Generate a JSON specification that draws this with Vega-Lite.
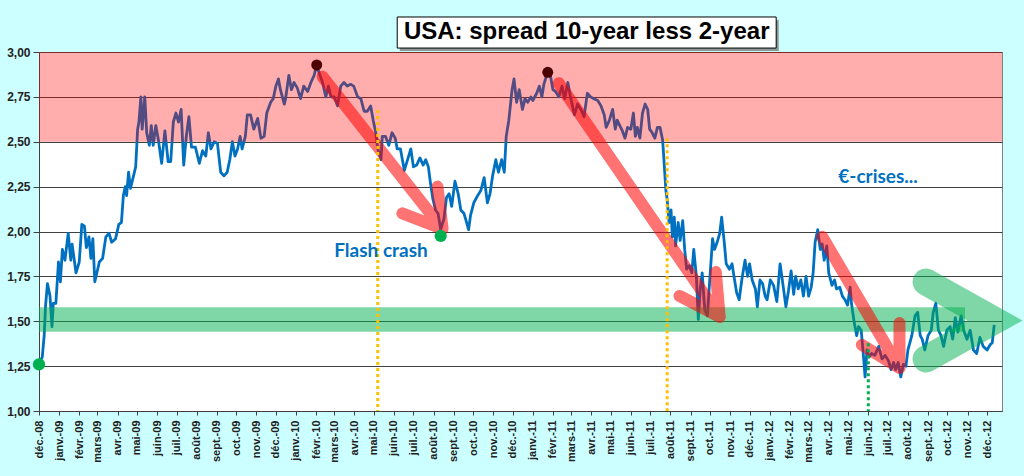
{
  "$schema": "https://vega.github.io/schema/vega-lite/v6.json",
  "width": 963,
  "height": 359,
  "autosize": {"type": "none"},
  "padding": {"left": 39, "top": 52, "right": 22, "bottom": 65},
  "background": "#CCFFFF",
  "config": {
    "view": {"fill": "white", "stroke": "#808080", "strokeWidth": 1},
    "locale": {
      "number": {"decimal": ",", "thousands": " ", "grouping": [3], "currency": ["", " €"]},
      "time": {
        "dateTime": "%A %e %B %Y à %X",
        "date": "%d/%m/%Y",
        "time": "%H:%M:%S",
        "periods": ["AM", "PM"],
        "days": ["dimanche", "lundi", "mardi", "mercredi", "jeudi", "vendredi", "samedi"],
        "shortDays": ["dim.", "lun.", "mar.", "mer.", "jeu.", "ven.", "sam."],
        "months": ["janvier", "février", "mars", "avril", "mai", "juin", "juillet", "août", "septembre", "octobre", "novembre", "décembre"],
        "shortMonths": ["janv.", "févr.", "mars", "avr.", "mai", "juin", "juil.", "août", "sept.", "oct.", "nov.", "déc."]
      }
    }
  },
  "encoding": {
    "x": {
      "field": "date",
      "type": "temporal",
      "scale": {
        "type": "utc",
        "domain": [{"year": 2008, "month": 12, "date": 1, "utc": true}, {"year": 2012, "month": 12, "date": 24, "utc": true}],
        "nice": false
      },
      "axis": {
        "title": null,
        "format": "%b-%y",
        "tickCount": {"interval": "month", "step": 1},
        "labelAngle": -90,
        "labelFont": "Liberation Sans",
        "labelFontWeight": "bold",
        "labelFontSize": 11,
        "labelColor": "#222222",
        "labelPadding": 5,
        "labelOverlap": false,
        "labelFlush": false,
        "labelBound": false,
        "tickSize": 4,
        "tickColor": "#404040",
        "domainColor": "#404040",
        "grid": false
      }
    },
    "y": {
      "field": "value",
      "type": "quantitative",
      "scale": {"domain": [1, 3], "nice": false, "zero": false},
      "axis": {
        "title": null,
        "values": [1, 1.25, 1.5, 1.75, 2, 2.25, 2.5, 2.75, 3],
        "format": ".2f",
        "labelFont": "Liberation Sans",
        "labelFontWeight": "bold",
        "labelFontSize": 12,
        "labelColor": "#222222",
        "labelPadding": 3,
        "tickSize": 6,
        "tickColor": "#404040",
        "domainColor": "#404040",
        "grid": true,
        "gridColor": "#404040",
        "gridWidth": 1
      }
    }
  },
  "layer": [
    {
      "data": {"values": [
        {"date": "2008-12-01", "value": 1.26}, {"date": "2008-12-06", "value": 1.30}, {"date": "2008-12-09", "value": 1.42}, {"date": "2008-12-11", "value": 1.58},
        {"date": "2008-12-14", "value": 1.71}, {"date": "2008-12-18", "value": 1.64}, {"date": "2008-12-21", "value": 1.47}, {"date": "2008-12-23", "value": 1.60},
        {"date": "2008-12-27", "value": 1.60}, {"date": "2008-12-31", "value": 1.83}, {"date": "2009-01-03", "value": 1.72}, {"date": "2009-01-06", "value": 1.90},
        {"date": "2009-01-10", "value": 1.84}, {"date": "2009-01-15", "value": 1.99}, {"date": "2009-01-19", "value": 1.84}, {"date": "2009-01-21", "value": 1.93},
        {"date": "2009-01-27", "value": 1.77}, {"date": "2009-02-01", "value": 1.83}, {"date": "2009-02-05", "value": 2.04}, {"date": "2009-02-09", "value": 2.03},
        {"date": "2009-02-12", "value": 1.91}, {"date": "2009-02-16", "value": 1.97}, {"date": "2009-02-19", "value": 1.85}, {"date": "2009-02-22", "value": 1.96},
        {"date": "2009-02-25", "value": 1.72}, {"date": "2009-03-04", "value": 1.83}, {"date": "2009-03-09", "value": 1.85}, {"date": "2009-03-14", "value": 1.97},
        {"date": "2009-03-19", "value": 1.99}, {"date": "2009-03-23", "value": 1.94}, {"date": "2009-03-29", "value": 1.96}, {"date": "2009-04-03", "value": 2.04},
        {"date": "2009-04-07", "value": 2.05}, {"date": "2009-04-10", "value": 2.20}, {"date": "2009-04-13", "value": 2.25}, {"date": "2009-04-15", "value": 2.20},
        {"date": "2009-04-18", "value": 2.33}, {"date": "2009-04-21", "value": 2.24}, {"date": "2009-04-25", "value": 2.30}, {"date": "2009-04-29", "value": 2.36},
        {"date": "2009-05-02", "value": 2.57}, {"date": "2009-05-04", "value": 2.61}, {"date": "2009-05-07", "value": 2.75}, {"date": "2009-05-09", "value": 2.57},
        {"date": "2009-05-13", "value": 2.75}, {"date": "2009-05-16", "value": 2.55}, {"date": "2009-05-20", "value": 2.48}, {"date": "2009-05-23", "value": 2.59},
        {"date": "2009-05-26", "value": 2.48}, {"date": "2009-05-30", "value": 2.59}, {"date": "2009-06-03", "value": 2.51}, {"date": "2009-06-08", "value": 2.38},
        {"date": "2009-06-13", "value": 2.56}, {"date": "2009-06-18", "value": 2.39}, {"date": "2009-06-22", "value": 2.39}, {"date": "2009-06-26", "value": 2.61},
        {"date": "2009-06-30", "value": 2.66}, {"date": "2009-07-04", "value": 2.61}, {"date": "2009-07-08", "value": 2.68}, {"date": "2009-07-12", "value": 2.37},
        {"date": "2009-07-16", "value": 2.53}, {"date": "2009-07-20", "value": 2.64}, {"date": "2009-07-24", "value": 2.47}, {"date": "2009-07-30", "value": 2.47},
        {"date": "2009-08-05", "value": 2.38}, {"date": "2009-08-10", "value": 2.45}, {"date": "2009-08-15", "value": 2.42}, {"date": "2009-08-19", "value": 2.55},
        {"date": "2009-08-23", "value": 2.46}, {"date": "2009-08-28", "value": 2.50}, {"date": "2009-09-02", "value": 2.49}, {"date": "2009-09-07", "value": 2.33},
        {"date": "2009-09-12", "value": 2.31}, {"date": "2009-09-17", "value": 2.33}, {"date": "2009-09-21", "value": 2.40}, {"date": "2009-09-25", "value": 2.50},
        {"date": "2009-09-29", "value": 2.42}, {"date": "2009-10-03", "value": 2.46}, {"date": "2009-10-07", "value": 2.53}, {"date": "2009-10-10", "value": 2.46},
        {"date": "2009-10-15", "value": 2.53}, {"date": "2009-10-18", "value": 2.65}, {"date": "2009-10-23", "value": 2.65}, {"date": "2009-10-28", "value": 2.57},
        {"date": "2009-11-03", "value": 2.63}, {"date": "2009-11-08", "value": 2.52}, {"date": "2009-11-13", "value": 2.53}, {"date": "2009-11-17", "value": 2.66},
        {"date": "2009-11-23", "value": 2.72}, {"date": "2009-11-27", "value": 2.74}, {"date": "2009-12-01", "value": 2.81}, {"date": "2009-12-05", "value": 2.85},
        {"date": "2009-12-08", "value": 2.79}, {"date": "2009-12-14", "value": 2.71}, {"date": "2009-12-16", "value": 2.74}, {"date": "2009-12-21", "value": 2.87},
        {"date": "2009-12-25", "value": 2.79}, {"date": "2009-12-29", "value": 2.83}, {"date": "2010-01-03", "value": 2.80}, {"date": "2010-01-08", "value": 2.74},
        {"date": "2010-01-13", "value": 2.81}, {"date": "2010-01-19", "value": 2.78}, {"date": "2010-01-24", "value": 2.83}, {"date": "2010-01-29", "value": 2.87},
        {"date": "2010-02-02", "value": 2.93}, {"date": "2010-02-06", "value": 2.88}, {"date": "2010-02-11", "value": 2.83}, {"date": "2010-02-16", "value": 2.75},
        {"date": "2010-02-20", "value": 2.81}, {"date": "2010-02-24", "value": 2.75}, {"date": "2010-03-01", "value": 2.75}, {"date": "2010-03-06", "value": 2.70},
        {"date": "2010-03-11", "value": 2.81}, {"date": "2010-03-16", "value": 2.83}, {"date": "2010-03-21", "value": 2.81}, {"date": "2010-03-26", "value": 2.82},
        {"date": "2010-03-31", "value": 2.81}, {"date": "2010-04-06", "value": 2.75}, {"date": "2010-04-11", "value": 2.74}, {"date": "2010-04-16", "value": 2.67},
        {"date": "2010-04-21", "value": 2.67}, {"date": "2010-04-26", "value": 2.70}, {"date": "2010-04-30", "value": 2.62}, {"date": "2010-05-04", "value": 2.55},
        {"date": "2010-05-07", "value": 2.46}, {"date": "2010-05-12", "value": 2.40}, {"date": "2010-05-14", "value": 2.53}, {"date": "2010-05-19", "value": 2.53},
        {"date": "2010-05-24", "value": 2.48}, {"date": "2010-05-29", "value": 2.55}, {"date": "2010-06-03", "value": 2.52}, {"date": "2010-06-06", "value": 2.46},
        {"date": "2010-06-11", "value": 2.46}, {"date": "2010-06-17", "value": 2.34}, {"date": "2010-06-22", "value": 2.40}, {"date": "2010-06-27", "value": 2.46},
        {"date": "2010-07-01", "value": 2.36}, {"date": "2010-07-06", "value": 2.37}, {"date": "2010-07-11", "value": 2.41}, {"date": "2010-07-16", "value": 2.37},
        {"date": "2010-07-20", "value": 2.40}, {"date": "2010-07-24", "value": 2.36}, {"date": "2010-07-28", "value": 2.25}, {"date": "2010-07-31", "value": 2.18},
        {"date": "2010-08-04", "value": 2.12}, {"date": "2010-08-08", "value": 2.10}, {"date": "2010-08-12", "value": 2.01}, {"date": "2010-08-17", "value": 2.07},
        {"date": "2010-08-21", "value": 2.19}, {"date": "2010-08-25", "value": 2.21}, {"date": "2010-08-29", "value": 2.14}, {"date": "2010-09-03", "value": 2.28},
        {"date": "2010-09-08", "value": 2.21}, {"date": "2010-09-12", "value": 2.12}, {"date": "2010-09-17", "value": 2.10}, {"date": "2010-09-21", "value": 2.05},
        {"date": "2010-09-24", "value": 2.01}, {"date": "2010-09-27", "value": 2.09}, {"date": "2010-10-02", "value": 2.16}, {"date": "2010-10-08", "value": 2.20},
        {"date": "2010-10-13", "value": 2.23}, {"date": "2010-10-18", "value": 2.30}, {"date": "2010-10-23", "value": 2.16}, {"date": "2010-10-27", "value": 2.21},
        {"date": "2010-10-31", "value": 2.31}, {"date": "2010-11-05", "value": 2.40}, {"date": "2010-11-09", "value": 2.33}, {"date": "2010-11-14", "value": 2.40},
        {"date": "2010-11-18", "value": 2.33}, {"date": "2010-11-21", "value": 2.53}, {"date": "2010-11-25", "value": 2.62}, {"date": "2010-11-30", "value": 2.79},
        {"date": "2010-12-03", "value": 2.85}, {"date": "2010-12-07", "value": 2.72}, {"date": "2010-12-11", "value": 2.79}, {"date": "2010-12-16", "value": 2.68},
        {"date": "2010-12-20", "value": 2.74}, {"date": "2010-12-24", "value": 2.72}, {"date": "2010-12-29", "value": 2.75}, {"date": "2011-01-01", "value": 2.73},
        {"date": "2011-01-07", "value": 2.77}, {"date": "2011-01-11", "value": 2.81}, {"date": "2011-01-15", "value": 2.75}, {"date": "2011-01-18", "value": 2.82},
        {"date": "2011-01-24", "value": 2.89}, {"date": "2011-01-28", "value": 2.87}, {"date": "2011-02-01", "value": 2.79}, {"date": "2011-02-05", "value": 2.78},
        {"date": "2011-02-10", "value": 2.75}, {"date": "2011-02-15", "value": 2.81}, {"date": "2011-02-19", "value": 2.74}, {"date": "2011-02-24", "value": 2.83},
        {"date": "2011-02-28", "value": 2.75}, {"date": "2011-03-06", "value": 2.65}, {"date": "2011-03-11", "value": 2.71}, {"date": "2011-03-16", "value": 2.68},
        {"date": "2011-03-21", "value": 2.64}, {"date": "2011-03-26", "value": 2.77}, {"date": "2011-03-31", "value": 2.75}, {"date": "2011-04-05", "value": 2.74},
        {"date": "2011-04-11", "value": 2.73}, {"date": "2011-04-16", "value": 2.70}, {"date": "2011-04-21", "value": 2.65}, {"date": "2011-04-24", "value": 2.58},
        {"date": "2011-04-29", "value": 2.62}, {"date": "2011-05-04", "value": 2.68}, {"date": "2011-05-08", "value": 2.57}, {"date": "2011-05-11", "value": 2.62},
        {"date": "2011-05-15", "value": 2.59}, {"date": "2011-05-19", "value": 2.56}, {"date": "2011-05-23", "value": 2.52}, {"date": "2011-05-27", "value": 2.58},
        {"date": "2011-06-01", "value": 2.57}, {"date": "2011-06-05", "value": 2.66}, {"date": "2011-06-08", "value": 2.53}, {"date": "2011-06-11", "value": 2.58},
        {"date": "2011-06-15", "value": 2.52}, {"date": "2011-06-19", "value": 2.66}, {"date": "2011-06-23", "value": 2.71}, {"date": "2011-06-27", "value": 2.68},
        {"date": "2011-06-30", "value": 2.57}, {"date": "2011-07-04", "value": 2.55}, {"date": "2011-07-08", "value": 2.52}, {"date": "2011-07-12", "value": 2.58},
        {"date": "2011-07-16", "value": 2.58}, {"date": "2011-07-20", "value": 2.51}, {"date": "2011-07-22", "value": 2.40}, {"date": "2011-07-25", "value": 2.23},
        {"date": "2011-07-27", "value": 2.18}, {"date": "2011-07-30", "value": 2.05}, {"date": "2011-08-02", "value": 2.12}, {"date": "2011-08-04", "value": 1.97},
        {"date": "2011-08-07", "value": 2.08}, {"date": "2011-08-09", "value": 1.92}, {"date": "2011-08-13", "value": 2.05}, {"date": "2011-08-16", "value": 1.95},
        {"date": "2011-08-20", "value": 2.06}, {"date": "2011-08-23", "value": 1.90}, {"date": "2011-08-26", "value": 1.79}, {"date": "2011-08-30", "value": 1.81},
        {"date": "2011-09-03", "value": 1.77}, {"date": "2011-09-06", "value": 1.90}, {"date": "2011-09-10", "value": 1.75}, {"date": "2011-09-13", "value": 1.51},
        {"date": "2011-09-16", "value": 1.68}, {"date": "2011-09-19", "value": 1.77}, {"date": "2011-09-23", "value": 1.56}, {"date": "2011-09-27", "value": 1.53},
        {"date": "2011-10-01", "value": 1.75}, {"date": "2011-10-05", "value": 1.96}, {"date": "2011-10-08", "value": 1.90}, {"date": "2011-10-12", "value": 1.94},
        {"date": "2011-10-16", "value": 1.99}, {"date": "2011-10-19", "value": 2.08}, {"date": "2011-10-23", "value": 1.94}, {"date": "2011-10-26", "value": 1.82},
        {"date": "2011-10-31", "value": 1.79}, {"date": "2011-11-04", "value": 1.82}, {"date": "2011-11-07", "value": 1.75}, {"date": "2011-11-11", "value": 1.66},
        {"date": "2011-11-15", "value": 1.62}, {"date": "2011-11-19", "value": 1.73}, {"date": "2011-11-24", "value": 1.84}, {"date": "2011-11-28", "value": 1.75},
        {"date": "2011-12-01", "value": 1.82}, {"date": "2011-12-05", "value": 1.73}, {"date": "2011-12-10", "value": 1.68}, {"date": "2011-12-13", "value": 1.58},
        {"date": "2011-12-17", "value": 1.73}, {"date": "2011-12-21", "value": 1.71}, {"date": "2011-12-25", "value": 1.64}, {"date": "2011-12-28", "value": 1.62},
        {"date": "2012-01-02", "value": 1.73}, {"date": "2012-01-07", "value": 1.70}, {"date": "2012-01-12", "value": 1.61}, {"date": "2012-01-17", "value": 1.82},
        {"date": "2012-01-22", "value": 1.69}, {"date": "2012-01-26", "value": 1.58}, {"date": "2012-01-30", "value": 1.67}, {"date": "2012-02-03", "value": 1.78},
        {"date": "2012-02-07", "value": 1.65}, {"date": "2012-02-10", "value": 1.75}, {"date": "2012-02-14", "value": 1.68}, {"date": "2012-02-18", "value": 1.73},
        {"date": "2012-02-22", "value": 1.64}, {"date": "2012-02-26", "value": 1.75}, {"date": "2012-03-01", "value": 1.64}, {"date": "2012-03-05", "value": 1.69},
        {"date": "2012-03-08", "value": 1.77}, {"date": "2012-03-11", "value": 1.94}, {"date": "2012-03-15", "value": 2.01}, {"date": "2012-03-19", "value": 1.90},
        {"date": "2012-03-22", "value": 1.93}, {"date": "2012-03-25", "value": 1.84}, {"date": "2012-03-29", "value": 1.92}, {"date": "2012-04-01", "value": 1.77},
        {"date": "2012-04-06", "value": 1.70}, {"date": "2012-04-10", "value": 1.73}, {"date": "2012-04-13", "value": 1.68}, {"date": "2012-04-18", "value": 1.69},
        {"date": "2012-04-22", "value": 1.64}, {"date": "2012-04-26", "value": 1.62}, {"date": "2012-04-30", "value": 1.59}, {"date": "2012-05-04", "value": 1.69},
        {"date": "2012-05-06", "value": 1.60}, {"date": "2012-05-10", "value": 1.50}, {"date": "2012-05-14", "value": 1.42}, {"date": "2012-05-17", "value": 1.47},
        {"date": "2012-05-21", "value": 1.45}, {"date": "2012-05-24", "value": 1.33}, {"date": "2012-05-27", "value": 1.19}, {"date": "2012-05-30", "value": 1.34},
        {"date": "2012-06-02", "value": 1.30}, {"date": "2012-06-06", "value": 1.32}, {"date": "2012-06-11", "value": 1.31}, {"date": "2012-06-17", "value": 1.36},
        {"date": "2012-06-22", "value": 1.29}, {"date": "2012-06-27", "value": 1.31}, {"date": "2012-07-02", "value": 1.28}, {"date": "2012-07-06", "value": 1.23},
        {"date": "2012-07-10", "value": 1.27}, {"date": "2012-07-13", "value": 1.23}, {"date": "2012-07-17", "value": 1.27}, {"date": "2012-07-21", "value": 1.19},
        {"date": "2012-07-25", "value": 1.26}, {"date": "2012-07-29", "value": 1.25}, {"date": "2012-08-01", "value": 1.34}, {"date": "2012-08-04", "value": 1.38},
        {"date": "2012-08-07", "value": 1.42}, {"date": "2012-08-12", "value": 1.53}, {"date": "2012-08-16", "value": 1.55}, {"date": "2012-08-20", "value": 1.42},
        {"date": "2012-08-23", "value": 1.40}, {"date": "2012-08-27", "value": 1.34}, {"date": "2012-09-01", "value": 1.42}, {"date": "2012-09-06", "value": 1.45},
        {"date": "2012-09-09", "value": 1.55}, {"date": "2012-09-13", "value": 1.60}, {"date": "2012-09-17", "value": 1.45}, {"date": "2012-09-21", "value": 1.42},
        {"date": "2012-09-25", "value": 1.36}, {"date": "2012-09-30", "value": 1.45}, {"date": "2012-10-05", "value": 1.47}, {"date": "2012-10-09", "value": 1.40},
        {"date": "2012-10-13", "value": 1.52}, {"date": "2012-10-17", "value": 1.44}, {"date": "2012-10-22", "value": 1.53}, {"date": "2012-10-26", "value": 1.45},
        {"date": "2012-10-31", "value": 1.40}, {"date": "2012-11-05", "value": 1.45}, {"date": "2012-11-10", "value": 1.34}, {"date": "2012-11-15", "value": 1.32},
        {"date": "2012-11-20", "value": 1.41}, {"date": "2012-11-25", "value": 1.36}, {"date": "2012-12-01", "value": 1.34}, {"date": "2012-12-06", "value": 1.37},
        {"date": "2012-12-09", "value": 1.38}, {"date": "2012-12-12", "value": 1.48}
      ]},
      "mark": {"type": "line", "color": "#0070C0", "strokeWidth": 2.8, "strokeJoin": "round"}
    },
    {
      "data": {"values": [{"date": "2008-12-01", "date2": "2012-12-24", "value": 2.5, "value2": 3.0}]},
      "mark": {"type": "rect", "color": "#FF0000", "opacity": 0.32},
      "encoding": {"x2": {"field": "date2"}, "y2": {"field": "value2"}}
    },
    {
      "data": {"values": [{"date": "2008-12-01", "date2": "2012-10-28", "value": 1.442, "value2": 1.578}]},
      "mark": {"type": "rect", "color": "#00B050", "opacity": 0.5},
      "encoding": {"x2": {"field": "date2"}, "y2": {"field": "value2"}}
    },
    {
      "data": {"values": [
        {"seq": 1, "date": "2012-08-29", "value": 1.719},
        {"seq": 2, "date": "2012-12-13", "value": 1.504},
        {"seq": 3, "date": "2012-08-29", "value": 1.290}
      ]},
      "mark": {"type": "line", "color": "#00B050", "opacity": 0.5, "strokeWidth": 27, "strokeCap": "round", "strokeJoin": "miter", "strokeMiterLimit": 10},
      "encoding": {"order": {"field": "seq", "type": "quantitative"}}
    },
    {
      "data": {"values": [
        {"arrow": 1, "seq": 1, "date": "2010-06-14", "value": 2.101},
        {"arrow": 1, "seq": 2, "date": "2010-08-15", "value": 2.014},
        {"arrow": 1, "seq": 3, "date": "2010-02-11", "value": 2.862},
        {"arrow": 1, "seq": 4, "date": "2010-08-15", "value": 2.014},
        {"arrow": 1, "seq": 5, "date": "2010-08-07", "value": 2.250},
        {"arrow": 2, "seq": 1, "date": "2011-08-15", "value": 1.641},
        {"arrow": 2, "seq": 2, "date": "2011-10-16", "value": 1.524},
        {"arrow": 2, "seq": 3, "date": "2011-02-10", "value": 2.826},
        {"arrow": 2, "seq": 4, "date": "2011-10-16", "value": 1.524},
        {"arrow": 2, "seq": 5, "date": "2011-10-10", "value": 1.774},
        {"arrow": 3, "seq": 1, "date": "2012-05-22", "value": 1.368},
        {"arrow": 3, "seq": 2, "date": "2012-07-19", "value": 1.240},
        {"arrow": 3, "seq": 3, "date": "2012-03-22", "value": 1.971},
        {"arrow": 3, "seq": 4, "date": "2012-07-19", "value": 1.240},
        {"arrow": 3, "seq": 5, "date": "2012-07-19", "value": 1.490}
      ]},
      "mark": {"type": "line", "color": "#FF0000", "opacity": 0.55, "strokeWidth": 12, "strokeCap": "round", "strokeJoin": "round"},
      "encoding": {
        "detail": {"field": "arrow", "type": "nominal"},
        "order": {"field": "seq", "type": "quantitative"}
      }
    },
    {
      "data": {"values": [
        {"date": "2010-05-07", "value": 2.677, "value2": 1.0},
        {"date": "2011-07-27", "value": 2.52, "value2": 1.0}
      ]},
      "mark": {"type": "rule", "color": "#FFC000", "strokeWidth": 3, "strokeDash": [3, 3]},
      "encoding": {"y2": {"field": "value2"}}
    },
    {
      "data": {"values": [{"date": "2012-06-01", "value": 1.377, "value2": 1.0}]},
      "mark": {"type": "rule", "color": "#00B050", "strokeWidth": 3, "strokeDash": [3, 3]},
      "encoding": {"y2": {"field": "value2"}}
    },
    {
      "data": {"values": [
        {"date": "2008-12-01", "value": 1.26},
        {"date": "2010-08-12", "value": 1.975}
      ]},
      "mark": {"type": "point", "filled": true, "opacity": 1, "color": "#00B050", "size": 150}
    },
    {
      "data": {"values": [
        {"date": "2010-02-02", "value": 2.928},
        {"date": "2011-01-24", "value": 2.887}
      ]},
      "mark": {"type": "point", "filled": true, "opacity": 1, "color": "#4D0000", "size": 120}
    },
    {
      "data": {"values": [
        {"date": "2010-05-12", "value": 1.891, "label": "Flash crash"},
        {"date": "2012-06-16", "value": 2.304, "label": "€-crises..."}
      ]},
      "mark": {"type": "text", "font": "Lato", "fontWeight": "bold", "fontSize": 19, "color": "#0070C0", "align": "center", "baseline": "middle"},
      "encoding": {"text": {"field": "label"}}
    },
    {
      "data": {"values": [{"date": "2010-06-10", "date2": "2012-01-15", "value": 3.006, "value2": 3.178}]},
      "mark": {"type": "rect", "color": "#7F7F7F", "opacity": 0.8},
      "encoding": {"x2": {"field": "date2"}, "y2": {"field": "value2"}}
    },
    {
      "data": {"values": [{"date": "2010-06-06", "date2": "2012-01-11", "value": 3.022, "value2": 3.195}]},
      "mark": {"type": "rect", "fill": "white", "stroke": "black", "strokeWidth": 1, "opacity": 1},
      "encoding": {"x2": {"field": "date2"}, "y2": {"field": "value2"}}
    },
    {
      "data": {"values": [{"date": "2011-03-25", "value": 3.112, "label": "USA: spread 10-year less 2-year"}]},
      "mark": {"type": "text", "font": "Liberation Sans", "fontWeight": "bold", "fontSize": 24, "color": "black", "align": "center", "baseline": "middle"},
      "encoding": {"text": {"field": "label"}}
    }
  ]
}
